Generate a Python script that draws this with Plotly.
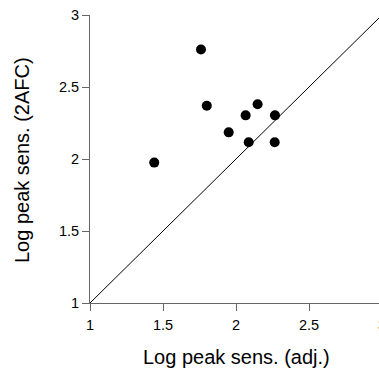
import plotly.graph_objects as go

adj = [1.44, 1.76, 1.80, 1.95, 2.066, 2.087, 2.148, 2.267, 2.265]
afc = [1.975, 2.76, 2.37, 2.185, 2.303, 2.116, 2.38, 2.303, 2.116]
diag = [1, 3]
ticks = [1, 1.5, 2, 2.5, 3]
tick_text = ["1", "1.5", "2", "2.5", "3"]
x_title = "Log peak sens. (adj.)"
y_title = "Log peak sens. (2AFC)"

fig = go.Figure()
fig.add_trace(go.Scatter(x=diag, y=diag, mode="lines",
                         line=dict(color="black", width=1), hoverinfo="skip"))
fig.add_trace(go.Scatter(x=adj, y=afc, mode="markers",
                         marker=dict(color="black", size=10)))

axis_common = dict(
    showgrid=False, zeroline=False, showline=True, linecolor="#666", linewidth=1,
    ticks="outside", ticklen=7, tickcolor="#666", tickwidth=1,
    tickvals=ticks, ticktext=tick_text, automargin=False, ticklabeloverflow="allow",
    tickfont=dict(family="Liberation Sans, Arial", size=14.5, color="black"),
)

fig.update_layout(
    width=382, height=370,
    margin=dict(l=90, r=0, t=15, b=67),
    plot_bgcolor="white", paper_bgcolor="white",
    showlegend=False,
    xaxis=dict(range=[1, 3], ticklabelstandoff=2, **axis_common),
    yaxis=dict(range=[1, 3], **axis_common),
    font=dict(family="Liberation Sans, Arial", color="black"),
    annotations=[
        dict(text=x_title, xref="paper", yref="paper", x=0.5, y=-54 / 288,
             xanchor="center", yanchor="middle", showarrow=False,
             font=dict(size=20, family="Liberation Sans, Arial", color="black")),
        dict(text=y_title, xref="paper", yref="paper", x=-68 / 292, y=143 / 288,
             xanchor="center", yanchor="middle", showarrow=False, textangle=-90,
             font=dict(size=20, family="Liberation Sans, Arial", color="black")),
    ],
)

fig.write_html(
    "out.html",
    config={"displayModeBar": False},
    post_script="document.body.style.margin='0';document.body.style.overflow='hidden';"
                "document.documentElement.style.overflow='hidden';",
)
